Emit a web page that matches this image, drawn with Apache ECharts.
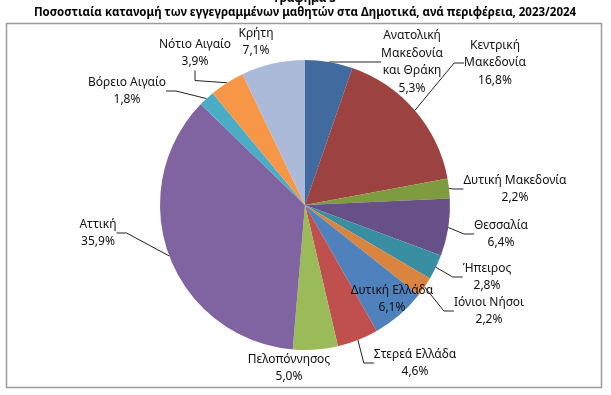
<!DOCTYPE html>
<html><head><meta charset="utf-8">
<script src="https://cdn.jsdelivr.net/npm/echarts@6/dist/echarts.min.js"></script>
<style>html,body{margin:0;padding:0;background:#fff}#c{width:611px;height:395px}</style>
</head><body><div id="c"></div>
<script>
var categories = [
  "Ανατολική\nΜακεδονία\nκαι Θράκη",
  "Κεντρική\nΜακεδονία",
  "Δυτική Μακεδονία",
  "Θεσσαλία",
  "Ήπειρος",
  "Ιόνιοι Νήσοι",
  "Δυτική Ελλάδα",
  "Στερεά Ελλάδα",
  "Πελοπόννησος",
  "Αττική",
  "Βόρειο Αιγαίο",
  "Νότιο Αιγαίο",
  "Κρήτη"
];
var values = [5.3, 16.8, 2.2, 6.4, 2.8, 2.2, 6.1, 4.6, 5.0, 35.9, 1.8, 3.9, 7.1];
var colors = ["#416B9E", "#9C4241", "#7E9B3F", "#675087", "#3A8EA2", "#D9843F", "#4F81BD", "#C0504D", "#9BBB59", "#8064A2", "#4BACC6", "#F79646", "#AABAD8"];
// label centre positions (layout, not data)
var labelPos = [[412,62],[495,63],[515,189],[501,234],[487,277],[489,311],[392,299],[415,363],[289,368],[98,233],[127,91],[195,53],[256,42]];
var showLine = [true,true,true,true,true,true,false,true,false,true,true,true,false];

var chart = echarts.init(document.getElementById('c'));
var data = categories.map(function(n,i){
  return {name:n, value:values[i], itemStyle:{color:colors[i]}, labelLine:{show:showLine[i]}};
});
chart.setOption({
  animation:false,
  graphic:[
    {type:'rect', shape:{x:6.5,y:23.5,width:595,height:364}, style:{fill:'none', stroke:'#9c9c9c', lineWidth:1.5}, z:-1},
    {type:'text', x:305, y:5, style:{text:'Γράφημα 3', font:'bold 11.5px "Noto Sans"', fill:'#000', textAlign:'center', textVerticalAlign:'bottom'}},
    {type:'text', x:305, y:13, style:{text:'Ποσοστιαία κατανομή των εγγεγραμμένων μαθητών στα Δημοτικά, ανά περιφέρεια, 2023/2024', font:'bold 11.5px "Noto Sans"', fill:'#000', textAlign:'center', textVerticalAlign:'middle'}}
  ],
  series:[{
    type:'pie', center:[305,205], radius:145, startAngle:90, clockwise:true,
    data:data,
    label:{show:true, position:'outside', color:'#111', fontFamily:'Noto Sans', fontSize:12, lineHeight:17.5, align:'center',
      formatter:function(p){return p.name + '\n' + p.value.toFixed(1).replace('.', ',') + '%';}},
    labelLine:{show:true, length:10, length2:10, lineStyle:{color:'#222', width:1}},
    labelLayout:function(p){var q=labelPos[p.dataIndex]; return {x:q[0], y:q[1], align:'center', verticalAlign:'middle'};},
    emphasis:{disabled:true}
  }]
});
</script></body></html>
